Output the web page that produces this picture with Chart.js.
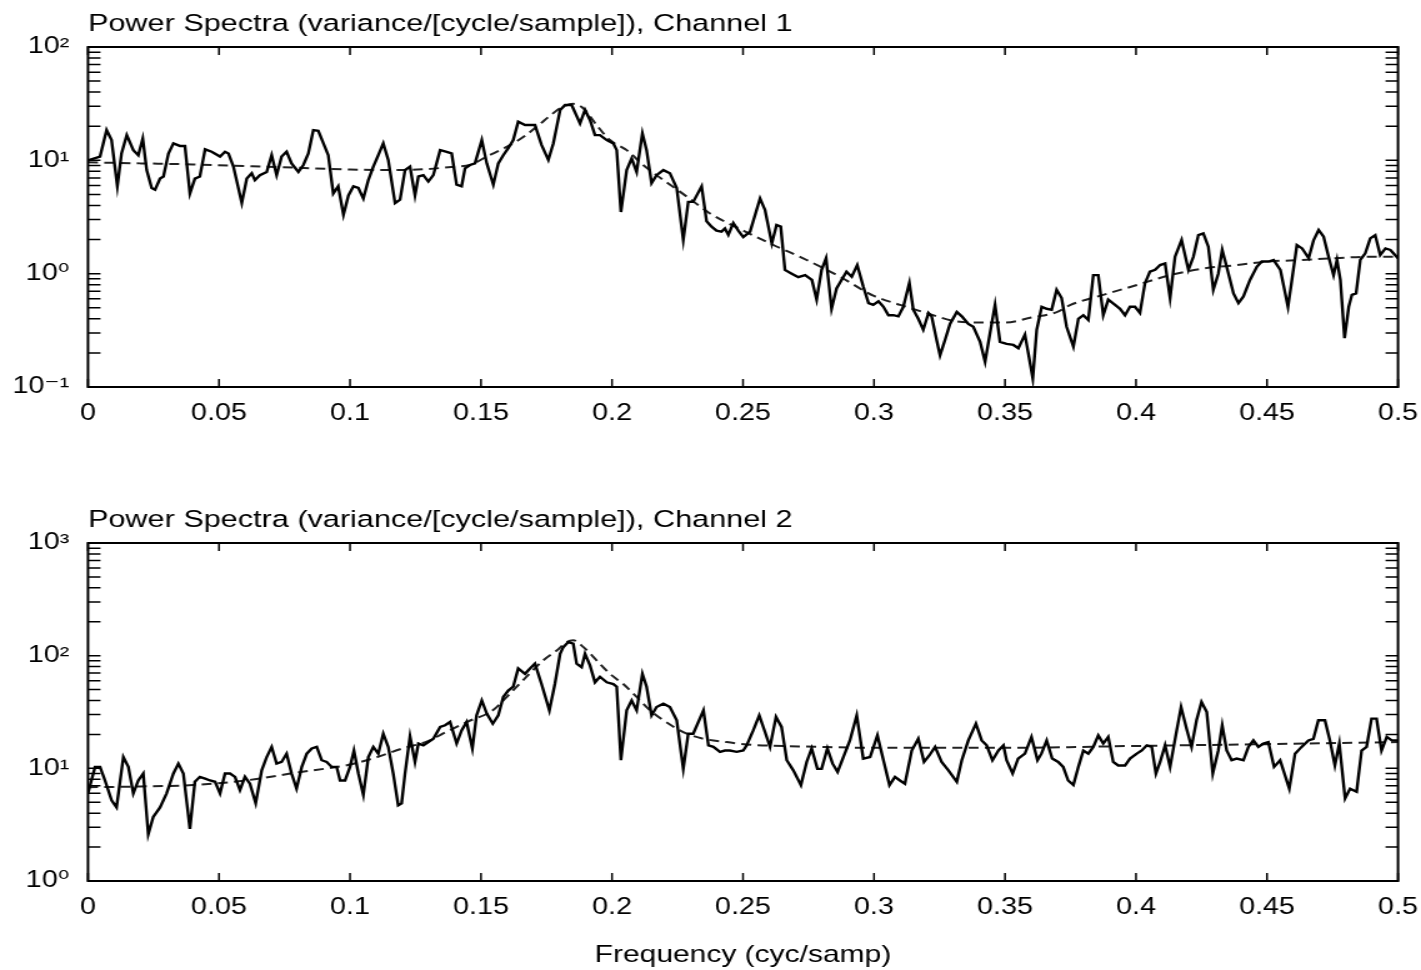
<!DOCTYPE html>
<html>
<head>
<meta charset="utf-8">
<script src="https://cdn.jsdelivr.net/npm/chart.js@4.4.1/dist/chart.umd.min.js"></script>
<style>
  body { margin: 0; background: #fff; width: 1421px; height: 970px; overflow: hidden; position: relative; }
  canvas { position: absolute; left: 0; }
</style>
</head>
<body>
<!-- the reference is stretched sideways, so the canvases are drawn narrow and widened by css -->
<canvas id="c1" width="1137" height="450" style="top:0;width:1421px;height:450px"></canvas>
<canvas id="c2" width="1137" height="480" style="top:490px;width:1421px;height:480px"></canvas>
<script>
// x ticks
const xTickValues = [0, 0.05, 0.1, 0.15, 0.2, 0.25, 0.3, 0.35, 0.4, 0.45, 0.5];
const xTickLabels = ['0', '0.05', '0.1', '0.15', '0.2', '0.25', '0.3', '0.35', '0.4', '0.45', '0.5'];
// y ticks (log)
const minorSteps = [1, 2, 3, 4, 5, 6, 7, 8, 9];
const yExponents = [-1, 0, 1, 2, 3];
const yExpLabels = ['10\u207B\u00B9', '10\u2070', '10\u00B9', '10\u00B2', '10\u00B3'];

// channel 1, raw spectrum
const ch1Freq = [0, 0.0046, 0.0071, 0.009, 0.0112, 0.0128, 0.0148, 0.0173, 0.0192, 0.0209,
  0.0224, 0.0243, 0.0256, 0.0275, 0.0288, 0.0307, 0.0326, 0.0351, 0.037, 0.0389,
  0.0408, 0.0427, 0.0447, 0.0472, 0.0504, 0.0523, 0.0536, 0.0555, 0.0587, 0.0606,
  0.0625, 0.0637, 0.0656, 0.0682, 0.0701, 0.072, 0.0739, 0.0758, 0.0777, 0.0803,
  0.0822, 0.0841, 0.086, 0.0879, 0.0917, 0.0936, 0.0955, 0.0975, 0.0994, 0.1013,
  0.1032, 0.1051, 0.107, 0.1089, 0.1108, 0.1127, 0.1146, 0.1172, 0.1191, 0.121,
  0.1229, 0.1248, 0.1261, 0.128, 0.1299, 0.1318, 0.1344, 0.1369, 0.1388, 0.1407,
  0.1426, 0.1439, 0.1458, 0.1477, 0.1503, 0.1522, 0.1547, 0.1566, 0.1585, 0.1604,
  0.1623, 0.1642, 0.1668, 0.1706, 0.1731, 0.1757, 0.1776, 0.1802, 0.1821, 0.1846,
  0.1878, 0.1897, 0.1916, 0.1935, 0.1954, 0.198, 0.2005, 0.2018, 0.2034, 0.2056,
  0.2075, 0.2094, 0.2116, 0.2132, 0.2151, 0.217, 0.2196, 0.2221, 0.2247, 0.2272,
  0.2291, 0.231, 0.2342, 0.2361, 0.238, 0.2399, 0.2418, 0.2431, 0.2444, 0.2463,
  0.2482, 0.2501, 0.2527, 0.2565, 0.2584, 0.261, 0.2628, 0.2644, 0.266, 0.2686,
  0.2711, 0.2737, 0.2763, 0.2781, 0.28, 0.2817, 0.2838, 0.2857, 0.2876, 0.2895,
  0.2915, 0.2936, 0.2959, 0.2979, 0.2997, 0.3017, 0.3036, 0.3055, 0.3074, 0.3093,
  0.3112, 0.3135, 0.315, 0.3169, 0.3188, 0.3208, 0.322, 0.3239, 0.3252, 0.3271,
  0.329, 0.3316, 0.3335, 0.336, 0.3379, 0.3405, 0.3424, 0.3443, 0.3462, 0.3481,
  0.3506, 0.3532, 0.3551, 0.3576, 0.3589, 0.3606, 0.3621, 0.364, 0.3659, 0.3678,
  0.3697, 0.3716, 0.3735, 0.3761, 0.378, 0.3799, 0.3818, 0.3837, 0.3856, 0.3875,
  0.3894, 0.392, 0.3939, 0.3958, 0.3977, 0.3996, 0.4015, 0.4034, 0.4053, 0.4073,
  0.4092, 0.4111, 0.413, 0.4149, 0.4174, 0.42, 0.4219, 0.4238, 0.4257, 0.4276,
  0.4295, 0.4314, 0.4329, 0.4346, 0.4372, 0.4391, 0.441, 0.4435, 0.4461, 0.448,
  0.4506, 0.4525, 0.4551, 0.458, 0.4595, 0.4614, 0.4634, 0.4659, 0.4678, 0.4697,
  0.4716, 0.4735, 0.4754, 0.4767, 0.478, 0.4796, 0.4812, 0.4824, 0.484, 0.4856,
  0.4875, 0.4894, 0.4913, 0.4932, 0.4952, 0.4971, 0.5];
const ch1Power = [10.0, 10.8, 18.5, 15.1, 5.9, 11.5, 16.7, 12.3, 11.1, 15.6,
  8.2, 5.7, 5.5, 6.9, 7.2, 11.5, 14.1, 13.4, 13.4, 5.1,
  6.9, 7.2, 12.5, 11.9, 10.8, 11.9, 11.5, 8.8, 4.2, 6.9,
  7.7, 6.7, 7.4, 7.9, 11.1, 7.4, 10.8, 11.9, 9.4, 7.9,
  9.1, 11.5, 18.5, 18.2, 11.1, 5.1, 5.9, 3.3, 4.9, 5.9,
  5.7, 4.6, 6.7, 8.8, 11.1, 14.1, 10.1, 4.2, 4.5, 8.2,
  8.8, 4.9, 7.2, 7.4, 6.5, 7.4, 12.3, 11.9, 11.5, 6.1,
  5.9, 8.5, 9.1, 9.4, 15.1, 9.4, 6.1, 9.4, 11.1, 12.8,
  15.1, 21.9, 20.5, 20.5, 13.7, 10.1, 14.1, 27.8, 30.8, 30.8,
  21.2, 27.8, 22.7, 16.7, 16.7, 15.1, 14.1, 12.3, 3.5, 8.2,
  10.4, 7.9, 17.3, 12.3, 6.3, 7.4, 8.2, 7.7, 5.7, 1.98,
  4.3, 4.3, 5.9, 2.9, 2.6, 2.4, 2.35, 2.5, 2.2, 2.8,
  2.4, 2.1, 2.35, 4.6, 3.65, 1.85, 2.69, 2.6, 1.08, 1.0,
  0.93, 0.97, 0.88, 0.59, 1.08, 1.37, 0.49, 0.74, 0.88, 1.04,
  0.94, 1.19, 0.77, 0.55, 0.53, 0.57, 0.51, 0.43, 0.43, 0.42,
  0.51, 0.83, 0.48, 0.40, 0.32, 0.45, 0.42, 0.26, 0.19, 0.26,
  0.36, 0.46, 0.42, 0.36, 0.34, 0.25, 0.167, 0.30, 0.53, 0.25,
  0.24, 0.235, 0.22, 0.29, 0.198, 0.119, 0.32, 0.51, 0.49, 0.48,
  0.72, 0.61, 0.34, 0.227, 0.40, 0.43, 0.39, 0.97, 0.97, 0.43,
  0.59, 0.53, 0.49, 0.43, 0.51, 0.51, 0.45, 0.82, 1.04, 1.08,
  1.19, 1.23, 0.61, 1.41, 1.98, 1.08, 1.41, 2.19, 2.27, 1.73,
  0.72, 1.0, 1.62, 1.15, 0.67, 0.55, 0.63, 0.88, 1.15, 1.28,
  1.28, 1.32, 1.08, 0.51, 0.88, 1.79, 1.67, 1.37, 1.98, 2.43,
  2.12, 1.41, 0.97, 1.32, 0.88, 0.27, 0.51, 0.65, 0.67, 1.32,
  1.51, 2.05, 2.19, 1.46, 1.67, 1.62, 1.37];

// channel 1, fitted spectrum (dashed)
const ch1FitFreq = [0, 0.02, 0.04, 0.06, 0.08, 0.1, 0.12, 0.13, 0.14, 0.1458,
  0.1522, 0.16, 0.1664, 0.1715, 0.1766, 0.1802, 0.1852, 0.189, 0.1941, 0.1992,
  0.2056, 0.2119, 0.2196, 0.2285, 0.2374, 0.2501, 0.2616, 0.2743, 0.287, 0.2997,
  0.31, 0.32, 0.33, 0.34, 0.35, 0.36, 0.37, 0.375, 0.3875, 0.4,
  0.413, 0.4257, 0.4384, 0.4506, 0.4634, 0.476, 0.4888, 0.5];
const ch1Fit = [9.6, 9.4, 9.2, 8.9, 8.6, 8.3, 8.2, 8.4, 8.8, 9.1,
  10.8, 13.2, 16.2, 20, 25, 28.8, 31.5, 28.8, 20.5, 15.1,
  12.3, 9.1, 6.7, 4.8, 3.4, 2.4, 1.79, 1.32, 0.94, 0.64,
  0.53, 0.45, 0.385, 0.37, 0.37, 0.41, 0.46, 0.53, 0.65, 0.79,
  0.97, 1.11, 1.19, 1.28, 1.32, 1.37, 1.41, 1.41];

// channel 2, raw spectrum
const ch2Freq = [0, 0.0027, 0.0046, 0.0065, 0.009, 0.0109, 0.0135, 0.0154, 0.0173, 0.0192,
  0.0211, 0.023, 0.0249, 0.0275, 0.03, 0.0326, 0.0345, 0.0364, 0.0389, 0.0408,
  0.0427, 0.0447, 0.0466, 0.0485, 0.0504, 0.0523, 0.0542, 0.0561, 0.058, 0.0599,
  0.0618, 0.064, 0.0663, 0.0682, 0.0701, 0.072, 0.0739, 0.0758, 0.0777, 0.0796,
  0.0816, 0.0835, 0.0854, 0.0873, 0.0892, 0.0911, 0.093, 0.0949, 0.0962, 0.0981,
  0.1, 0.1015, 0.1032, 0.1051, 0.107, 0.1089, 0.1108, 0.1127, 0.1146, 0.1165,
  0.1184, 0.1197, 0.121, 0.1229, 0.1248, 0.1261, 0.128, 0.1299, 0.1318, 0.1344,
  0.1363, 0.1382, 0.1407, 0.1426, 0.1445, 0.1467, 0.1483, 0.1503, 0.1522, 0.1545,
  0.1566, 0.1585, 0.1604, 0.1623, 0.1642, 0.1668, 0.1687, 0.1706, 0.1731, 0.1761,
  0.1782, 0.1802, 0.1814, 0.1833, 0.1852, 0.1865, 0.1884, 0.1897, 0.1916, 0.1935,
  0.1954, 0.198, 0.2005, 0.2018, 0.2034, 0.2056, 0.2075, 0.2094, 0.2116, 0.2132,
  0.2151, 0.217, 0.2196, 0.2221, 0.2247, 0.2272, 0.2291, 0.231, 0.2349, 0.2368,
  0.2387, 0.2412, 0.2431, 0.245, 0.2476, 0.2501, 0.2514, 0.2539, 0.2562, 0.2584,
  0.2603, 0.2626, 0.2647, 0.2667, 0.2692, 0.2721, 0.2743, 0.2762, 0.2784, 0.28,
  0.2822, 0.2842, 0.2861, 0.2883, 0.2908, 0.2934, 0.2959, 0.2985, 0.3013, 0.3036,
  0.3059, 0.308, 0.3099, 0.3118, 0.3144, 0.3169, 0.3191, 0.3211, 0.3233, 0.3258,
  0.3284, 0.3316, 0.3335, 0.336, 0.3389, 0.3411, 0.343, 0.3452, 0.3475, 0.3494,
  0.3506, 0.3529, 0.355, 0.3576, 0.3601, 0.3624, 0.3639, 0.3659, 0.368, 0.3703,
  0.3722, 0.3741, 0.3761, 0.378, 0.3799, 0.3818, 0.3837, 0.3856, 0.3875, 0.3894,
  0.3913, 0.3932, 0.3958, 0.3977, 0.4003, 0.4022, 0.4041, 0.406, 0.4076, 0.4092,
  0.4111, 0.413, 0.4153, 0.4172, 0.4193, 0.4212, 0.4231, 0.425, 0.427, 0.4293,
  0.4314, 0.4329, 0.4346, 0.4365, 0.4384, 0.441, 0.4429, 0.4448, 0.4467, 0.4486,
  0.4505, 0.4527, 0.455, 0.4585, 0.4607, 0.4632, 0.4658, 0.4677, 0.4696, 0.4721,
  0.474, 0.4759, 0.4776, 0.4798, 0.4817, 0.4842, 0.4861, 0.488, 0.4899, 0.4918,
  0.4937, 0.4957, 0.4976, 0.5];
const ch2Power = [6.0, 10.3, 10.3, 7.8, 5.2, 4.5, 12.6, 10.3, 6.0, 7.8,
  9.0, 2.6, 3.7, 4.5, 6.0, 9.0, 11.0, 9.0, 2.9, 7.6,
  8.4, 8.1, 7.8, 7.6, 6.0, 9.0, 9.0, 8.4, 6.4, 8.4,
  7.3, 4.9, 9.6, 12.6, 15.5, 11.0, 11.4, 13.5, 9.0, 6.6,
  10.3, 13.5, 15.0, 15.5, 11.8, 11.4, 10.3, 10.3, 7.8, 7.8,
  10.3, 14.4, 9.0, 5.8, 12.6, 15.5, 13.5, 20.3, 15.5, 9.0,
  4.7, 4.9, 9.0, 19.3, 11.4, 16.6, 16.0, 17.1, 18.3, 23.3,
  24.1, 25.8, 16.6, 21.7, 25.8, 15.0, 29.5, 40, 30.6, 24.9,
  29.5, 43, 49, 53, 77, 69, 77, 85, 56, 32.7,
  56, 104, 119, 132, 128, 85, 79, 104, 82, 58,
  65, 58, 56, 53, 11.8, 32.7, 40, 32.7, 69, 53,
  29.5, 35, 37.5, 35, 26.7, 9.9, 20.3, 20.3, 32.7, 16.0,
  15.5, 14.0, 14.4, 14.4, 14.0, 14.4, 16.0, 21.7, 29.5, 21.0,
  15.5, 28.6, 23.3, 11.8, 9.6, 7.1, 11.4, 15.0, 9.9, 9.9,
  15.0, 11.0, 9.3, 12.6, 17.7, 29.5, 12.2, 12.6, 19.6, 11.8,
  7.1, 8.4, 7.8, 7.3, 14.4, 18.3, 11.4, 13.0, 15.5, 11.4,
  9.6, 7.6, 11.8, 17.7, 24.9, 17.7, 16.0, 11.8, 14.4, 16.0,
  11.8, 9.0, 12.2, 13.5, 19.0, 11.8, 13.5, 17.7, 12.2, 11.4,
  10.3, 7.8, 7.1, 10.3, 14.4, 13.5, 15.5, 19.6, 16.6, 19.0,
  11.4, 10.6, 10.6, 12.2, 13.5, 14.4, 16.0, 15.5, 9.0, 11.4,
  16.0, 10.3, 20.3, 35.0, 22.5, 15.5, 26.7, 38.8, 31.6, 9.0,
  14.4, 24.1, 14.4, 11.8, 12.2, 11.8, 15.5, 17.7, 15.5, 16.6,
  17.1, 10.3, 11.8, 6.6, 13.5, 15.5, 17.7, 18.3, 26.7, 26.7,
  17.7, 10.6, 16.6, 5.4, 6.6, 6.2, 14.4, 15.5, 27.6, 27.6,
  14.4, 19.0, 17.7, 17.7];

// channel 2, fitted spectrum (dashed)
const ch2FitFreq = [0, 0.02, 0.04, 0.06, 0.08, 0.1, 0.11, 0.12, 0.13, 0.1354,
  0.145, 0.1545, 0.161, 0.1674, 0.1738, 0.1789, 0.1827, 0.1852, 0.1891, 0.1941,
  0.1992, 0.2043, 0.2094, 0.2145, 0.2196, 0.2247, 0.2285, 0.2349, 0.2438, 0.2514,
  0.28, 0.3, 0.35, 0.4, 0.45, 0.5];
const ch2Fit = [6.8, 6.9, 7.1, 7.8, 9.2, 10.8, 12.5, 15.0, 17.5, 20.3,
  26, 32.7, 46, 65, 91, 111, 132, 137, 119, 91,
  69, 56, 43, 32.7, 26.7, 22.5, 20.3, 18.3, 17.1, 16.3,
  15.5, 15.2, 15.2, 15.8, 16.4, 17.1];

const FONT = '"Liberation Sans", "DejaVu Sans", Arial, sans-serif';
const PLOT_LEFT = 70.4;   // 88px after the stretch
const PAD_RIGHT = 18.4;   // plot ends at 1398px

// box round the plot, ticks pointing inwards, title above the box
const framePlugin = {
    id: 'frame',
    afterDraw(chart, args, opts) {
        const {ctx, chartArea: a, scales} = chart;
        const x = scales.x, y = scales.y;
        ctx.save();
        ctx.strokeStyle = '#000';
        ctx.lineWidth = 1.5;
        ctx.beginPath();
        x.ticks.forEach(t => {
            const px = x.getPixelForValue(t.value);
            ctx.moveTo(px, a.top); ctx.lineTo(px, a.top + 8);
            ctx.moveTo(px, a.bottom); ctx.lineTo(px, a.bottom - 8);
        });
        y.ticks.forEach(t => {
            const py = y.getPixelForValue(t.value);
            ctx.moveTo(a.left, py); ctx.lineTo(a.left + 10, py);
            ctx.moveTo(a.right, py); ctx.lineTo(a.right - 10, py);
        });
        ctx.stroke();
        ctx.lineWidth = 2;
        ctx.strokeRect(a.left, a.top, a.right - a.left, a.bottom - a.top);
        ctx.fillStyle = '#000';
        ctx.font = '24.5px ' + FONT;
        ctx.textAlign = 'left';
        ctx.textBaseline = 'alphabetic';
        ctx.fillText(opts.title, a.left, a.top - 16);
        ctx.restore();
    }
};

function makeChart(id, title, freq, power, fitFreq, fit, loExp, hiExp, padTop, xHeight, showXTitle) {
    const ctx = document.getElementById(id).getContext('2d');
    return new Chart(ctx, {
        type: 'line',
        data: {
            datasets: [{
                data: freq.map((f, i) => ({x: f, y: power[i]})),
                borderColor: '#000',
                borderWidth: 2.4,
                pointRadius: 0,
                tension: 0
            }, {
                data: fitFreq.map((f, i) => ({x: f, y: fit[i]})),
                borderColor: '#222',
                borderWidth: 2,
                borderDash: [8, 5],
                pointRadius: 0,
                cubicInterpolationMode: 'monotone'
            }]
        },
        options: {
            responsive: false,
            animation: false,
            devicePixelRatio: 1,
            layout: {padding: {top: padTop, right: PAD_RIGHT, bottom: 0, left: 0}},
            plugins: {
                legend: {display: false},
                tooltip: {enabled: false},
                frame: {title: title}
            },
            scales: {
                x: {
                    type: 'linear',
                    min: 0,
                    max: 0.5,
                    afterBuildTicks: s => { s.ticks = xTickValues.map(v => ({value: v})); },
                    afterFit: s => { s.height = xHeight; s.paddingLeft = 0; s.paddingRight = 0; },
                    grid: {display: false, drawTicks: false},
                    border: {display: false},
                    ticks: {
                        autoSkip: false,
                        maxRotation: 0,
                        padding: 13,
                        color: '#000',
                        font: {family: FONT, size: 23},
                        callback: (v, i) => xTickLabels[i]
                    },
                    title: {
                        display: showXTitle,
                        text: 'Frequency (cyc/samp)',
                        color: '#000',
                        font: {family: FONT, size: 24},
                        padding: {top: 0, bottom: 0}
                    }
                },
                y: {
                    type: 'logarithmic',
                    min: Math.pow(10, loExp),
                    max: Math.pow(10, hiExp),
                    afterBuildTicks: s => {
                        const t = [];
                        for (let e = loExp; e < hiExp; e++) {
                            minorSteps.forEach(k => t.push({value: k * Math.pow(10, e), major: k === 1, exp: e}));
                        }
                        t.push({value: Math.pow(10, hiExp), major: true, exp: hiExp});
                        s.ticks = t;
                    },
                    afterFit: s => { s.width = PLOT_LEFT; s.paddingTop = 0; s.paddingBottom = 0; },
                    grid: {display: false, drawTicks: false},
                    border: {display: false},
                    ticks: {
                        autoSkip: false,
                        padding: 15,
                        color: '#000',
                        font: {family: FONT, size: 23},
                        callback: (v, i, ticks) => ticks[i].major ? yExpLabels[yExponents.indexOf(ticks[i].exp)] : ''
                    }
                }
            }
        },
        plugins: [framePlugin]
    });
}

makeChart('c1', 'Power Spectra (variance/[cycle/sample]), Channel 1',
    ch1Freq, ch1Power, ch1FitFreq, ch1Fit, -1, 2, 47, 63, false);
makeChart('c2', 'Power Spectra (variance/[cycle/sample]), Channel 2',
    ch2Freq, ch2Power, ch2FitFreq, ch2Fit, 0, 3, 53, 89, true);
</script>
</body>
</html>
